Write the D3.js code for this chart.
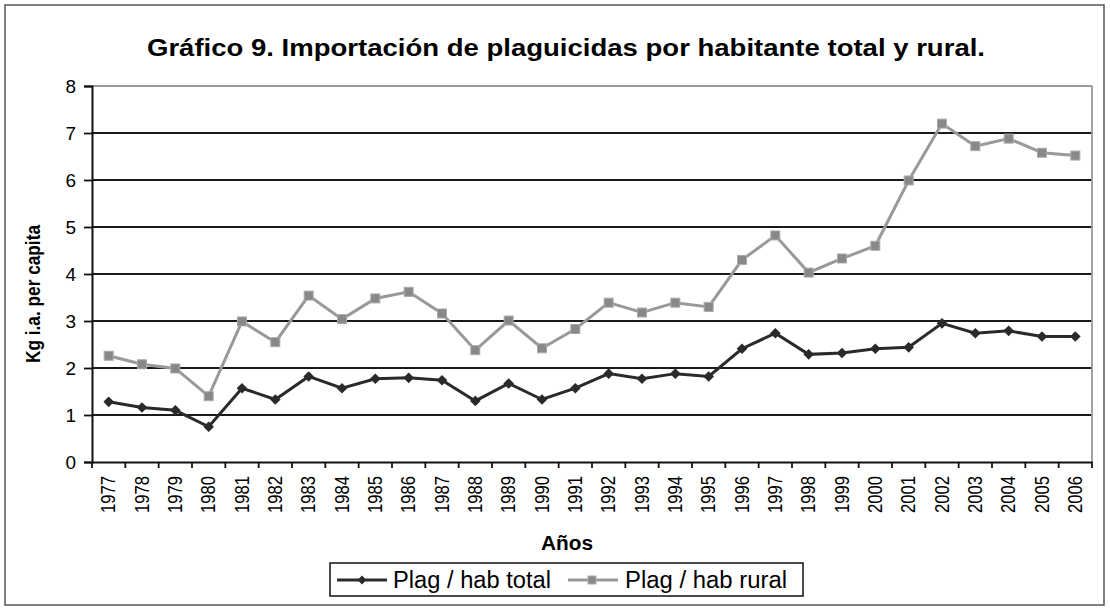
<!DOCTYPE html>
<html><head><meta charset="utf-8">
<script src="https://cdn.jsdelivr.net/npm/d3@7"></script>
<style>body{margin:0;background:#fff}svg{display:block}text{font-family:Arial,"Liberation Sans",sans-serif;fill:#000}</style>
</head><body>
<script>
const years = ["1977","1978","1979","1980","1981","1982","1983","1984","1985","1986","1987","1988","1989","1990","1991","1992","1993","1994","1995","1996","1997","1998","1999","2000","2001","2002","2003","2004","2005","2006"];
const totalValues = [1.28,1.16,1.1,0.75,1.57,1.33,1.82,1.57,1.77,1.79,1.74,1.3,1.67,1.33,1.57,1.88,1.77,1.88,1.82,2.41,2.74,2.29,2.32,2.41,2.44,2.95,2.74,2.79,2.67,2.67];
const ruralValues = [2.26,2.08,1.99,1.4,2.99,2.55,3.54,3.04,3.48,3.62,3.16,2.38,3.01,2.42,2.83,3.39,3.18,3.39,3.3,4.3,4.82,4.03,4.33,4.6,5.99,7.2,6.72,6.88,6.58,6.52];
const yTicks = [0,1,2,3,4,5,6,7,8];
const seriesNames = ["Plag / hab total","Plag / hab rural"];
const titleText = "Gráfico 9. Importación de plaguicidas por habitante total y rural.";

const W=1110,H=611;
const L=92,R=1092,T=86,B=462;
const svg=d3.select("body").append("svg").attr("width",W).attr("height",H);
svg.append("rect").attr("x",5).attr("y",5).attr("width",1099).attr("height",600).attr("fill","#fff").attr("stroke","#555").attr("stroke-width",1.5);

const x=d3.scaleBand().domain(years).range([L,R]);
const y=d3.scaleLinear().domain([0,8]).range([B,T]);

svg.append("g").selectAll("line").data(yTicks.filter(d=>d>0&&d<8)).join("line")
 .attr("x1",L).attr("x2",R).attr("y1",d=>y(d)).attr("y2",d=>y(d)).attr("stroke","#1a1a1a").attr("stroke-width",1.8);
svg.append("line").attr("x1",L).attr("x2",R).attr("y1",y(8)).attr("y2",y(8)).attr("stroke","#999").attr("stroke-width",1.8);
svg.append("line").attr("x1",R).attr("x2",R).attr("y1",T).attr("y2",B).attr("stroke","#999").attr("stroke-width",1.8);

const ya=svg.append("g").attr("transform",`translate(${L},0)`).call(d3.axisLeft(y).tickValues(yTicks).tickSize(8).tickPadding(8));
ya.select(".domain").attr("stroke","#111").attr("stroke-width",2);
ya.selectAll(".tick line").attr("stroke","#111").attr("stroke-width",1.8);
ya.selectAll(".tick text").attr("font-size",19).attr("font-family","Arial, 'Liberation Sans', sans-serif").attr("fill","#111");

const xa=svg.append("g").attr("transform",`translate(0,${B})`).call(d3.axisBottom(x).tickSize(0).tickFormat(""));
xa.select(".domain").attr("stroke","#111").attr("stroke-width",2);
const bounds=years.map(d=>x(d)).concat([R]);
svg.append("g").selectAll("line").data(bounds).join("line")
 .attr("x1",d=>d).attr("x2",d=>d).attr("y1",B).attr("y2",B+6).attr("stroke","#111").attr("stroke-width",1.8);
svg.append("g").selectAll("text").data(years).join("text")
 .attr("transform",d=>`translate(${x(d)+x.bandwidth()/2-1},476) rotate(-90)`)
 .attr("text-anchor","end").attr("dominant-baseline","central")
 .attr("font-size",21).attr("textLength",37).attr("lengthAdjust","spacingAndGlyphs").attr("fill","#111")
 .text(d=>d);

svg.append("text").attr("x",566).attr("y",56).attr("text-anchor","middle").attr("font-weight","bold")
 .attr("font-size",24).attr("textLength",838).attr("lengthAdjust","spacingAndGlyphs").attr("fill","#111").text(titleText);
svg.append("text").attr("transform","translate(32,294) rotate(-90)").attr("text-anchor","middle").attr("dominant-baseline","central")
 .attr("font-weight","bold").attr("font-size",21).attr("textLength",138).attr("lengthAdjust","spacingAndGlyphs").attr("fill","#111").text("Kg i.a. per capita");
svg.append("text").attr("x",567).attr("y",550).attr("text-anchor","middle").attr("font-weight","bold")
 .attr("font-size",20).attr("textLength",52).attr("lengthAdjust","spacingAndGlyphs").attr("fill","#111").text("Años");

const cx=d=>x(d)+x.bandwidth()/2;
const line=d3.line().x((v,i)=>cx(years[i])).y(v=>y(v));
svg.append("path").datum(ruralValues).attr("d",line).attr("fill","none").attr("stroke","#999").attr("stroke-width",3);
svg.append("g").selectAll("rect").data(ruralValues).join("rect")
 .attr("x",(v,i)=>cx(years[i])-4.5).attr("y",v=>y(v)-4.5).attr("width",9).attr("height",9)
 .attr("fill","#888").attr("stroke","#aaa").attr("stroke-width",1);
svg.append("path").datum(totalValues).attr("d",line).attr("fill","none").attr("stroke","#2a2a2a").attr("stroke-width",3);
const dia=d3.symbol().type(d3.symbolDiamond2).size(72);
svg.append("g").selectAll("path").data(totalValues).join("path")
 .attr("d",dia).attr("transform",(v,i)=>`translate(${cx(years[i])},${y(v)})`).attr("fill","#2a2a2a");

const lg=svg.append("g");
lg.append("rect").attr("x",330).attr("y",563).attr("width",473).attr("height",33).attr("fill","#fff").attr("stroke","#111").attr("stroke-width",1.5);
lg.append("line").attr("x1",337).attr("x2",387).attr("y1",580).attr("y2",580).attr("stroke","#2a2a2a").attr("stroke-width",3);
lg.append("path").attr("d",d3.symbol().type(d3.symbolDiamond2).size(50)).attr("transform","translate(362,580)").attr("fill","#2a2a2a");
lg.append("text").attr("x",393).attr("y",588).attr("font-size",23).attr("textLength",158).attr("lengthAdjust","spacingAndGlyphs").attr("fill","#111").text(seriesNames[0]);
lg.append("line").attr("x1",568).attr("x2",618).attr("y1",580).attr("y2",580).attr("stroke","#999").attr("stroke-width",3);
lg.append("rect").attr("x",588).attr("y",576).attr("width",8).attr("height",8).attr("fill","#888").attr("stroke","#aaa");
lg.append("text").attr("x",625).attr("y",588).attr("font-size",23).attr("textLength",162).attr("lengthAdjust","spacingAndGlyphs").attr("fill","#111").text(seriesNames[1]);
</script>
</body></html>
